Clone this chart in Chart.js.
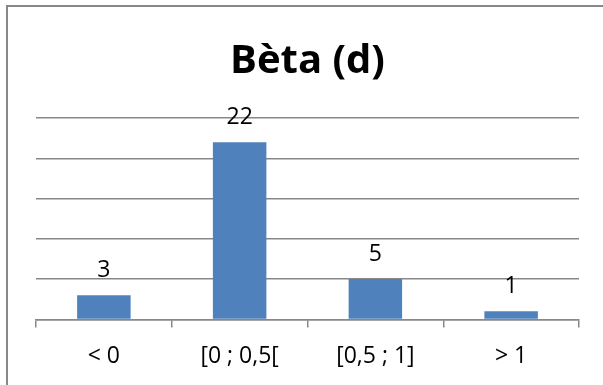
<!DOCTYPE html>
<html>
<head>
<meta charset="utf-8">
<script src="https://cdn.jsdelivr.net/npm/chart.js@4/dist/chart.umd.min.js"></script>
<style>
  html, body { margin: 0; padding: 0; background: #fff; }
  #wrap { position: relative; width: 603px; height: 385px; overflow: hidden; }
  #frame { position: absolute; left: 6px; top: 5px; width: 700px; height: 500px;
           border-left: 2px solid #888; border-top: 2px solid #888; }
  canvas { position: absolute; left: 0; top: 0; }
</style>
</head>
<body>
<div id="wrap">
  <div id="frame"></div>
  <canvas id="c" width="603" height="385"></canvas>
</div>
<script>
const categories = ['< 0', '[0 ; 0,5[', '[0,5 ; 1]', '> 1'];
const counts = [3, 22, 5, 1];
const chartTitle = 'Bèta (d)';

const FONT = "'Open Sans', 'Liberation Sans', sans-serif";

// Writes each bar's value above it, from the bar element's own position
const valueLabels = {
  id: 'valueLabels',
  afterDatasetsDraw(chart) {
    const ctx = chart.ctx;
    const meta = chart.getDatasetMeta(0);
    ctx.save();
    ctx.font = '23px ' + FONT;
    ctx.fillStyle = '#000';
    ctx.textAlign = 'center';
    ctx.textBaseline = 'alphabetic';
    meta.data.forEach((bar, i) => {
      ctx.fillText(String(counts[i]), bar.x, bar.y - 18.5);
    });
    ctx.restore();
  }
};

new Chart(document.getElementById('c'), {
  type: 'bar',
  data: {
    labels: categories,
    datasets: [{
      data: counts,
      backgroundColor: '#4F81BD',
      borderWidth: 0,
      categoryPercentage: 1,
      barPercentage: 0.394
    }]
  },
  options: {
    responsive: false,
    animation: false,
    events: [],
    layout: { padding: { left: 36, right: 24, top: 38, bottom: 0 } },
    plugins: {
      legend: { display: false },
      tooltip: { enabled: false },
      title: {
        display: true,
        text: chartTitle,
        color: '#000',
        font: { family: FONT, size: 40, weight: 'bold' },
        padding: { top: 0, bottom: 32 }
      }
    },
    scales: {
      x: {
        grid: { display: true, drawOnChartArea: false, drawTicks: true, tickLength: 8,
                color: '#888', lineWidth: 1.5, offset: true },
        border: { display: true, color: '#888', width: 1.5 },
        ticks: { color: '#000', font: { family: FONT, size: 23 }, padding: 15, maxRotation: 0 }
      },
      y: {
        min: 0, max: 25,
        ticks: { display: false, stepSize: 5 },
        grid: { color: '#888', lineWidth: 1.5, drawTicks: false },
        border: { display: false }
      }
    }
  },
  plugins: [valueLabels]
});
</script>
</body>
</html>
